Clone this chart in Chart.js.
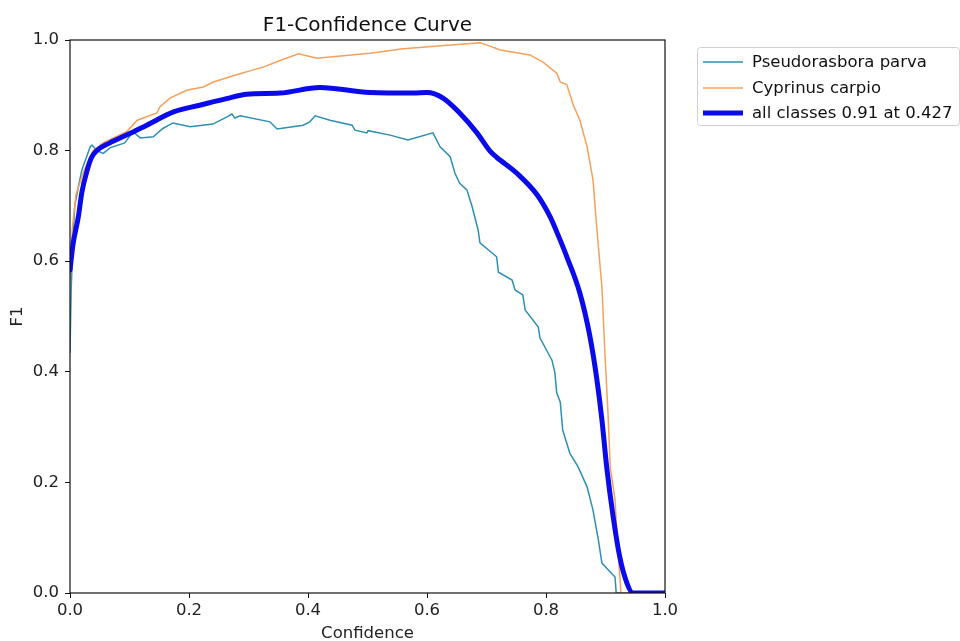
<!DOCTYPE html>
<html>
<head>
<meta charset="utf-8">
<script src="https://cdn.jsdelivr.net/npm/chart.js@4/dist/chart.umd.min.js"></script>
<style>
  html, body { margin: 0; padding: 0; background: #fff; }
  #wrap { width: 960px; height: 641px; }
</style>
</head>
<body>
<div id="wrap"><canvas id="f1Chart" width="960" height="641"></canvas></div>
<script>
// values
const seriesNames = ['Pseudorasbora parva', 'Cyprinus carpio', 'all classes 0.91 at 0.427'];
const tickValues = [0.0, 0.2, 0.4, 0.6, 0.8, 1.0];

const pConf = [0, 0.002, 0.005, 0.008, 0.015, 0.020, 0.024, 0.028, 0.034, 0.037, 0.045, 0.056, 0.067, 0.092, 0.106, 0.118, 0.140, 0.156, 0.173, 0.202, 0.240, 0.264, 0.272, 0.277, 0.286, 0.336, 0.348, 0.392, 0.403, 0.412, 0.437, 0.474, 0.479, 0.499, 0.501, 0.538, 0.568, 0.610, 0.622, 0.639, 0.647, 0.655, 0.667, 0.676, 0.686, 0.689, 0.717, 0.720, 0.743, 0.748, 0.761, 0.765, 0.787, 0.790, 0.810, 0.815, 0.818, 0.824, 0.828, 0.840, 0.854, 0.869, 0.879, 0.888, 0.894, 0.916, 0.918, 1.0];
const pF1   = [0.434, 0.55, 0.64, 0.70, 0.74, 0.765, 0.777, 0.789, 0.807, 0.810, 0.800, 0.795, 0.805, 0.814, 0.834, 0.823, 0.825, 0.840, 0.850, 0.843, 0.848, 0.861, 0.866, 0.859, 0.863, 0.852, 0.839, 0.846, 0.852, 0.863, 0.855, 0.846, 0.837, 0.832, 0.836, 0.828, 0.819, 0.832, 0.807, 0.789, 0.759, 0.741, 0.729, 0.698, 0.656, 0.633, 0.608, 0.580, 0.566, 0.548, 0.539, 0.512, 0.481, 0.461, 0.421, 0.398, 0.362, 0.345, 0.295, 0.253, 0.228, 0.192, 0.150, 0.096, 0.054, 0.029, 0, 0];

const cConf = [0, 0.004, 0.010, 0.022, 0.039, 0.056, 0.073, 0.095, 0.113, 0.146, 0.151, 0.168, 0.196, 0.224, 0.241, 0.280, 0.308, 0.325, 0.353, 0.384, 0.415, 0.504, 0.560, 0.689, 0.706, 0.723, 0.773, 0.795, 0.818, 0.824, 0.835, 0.846, 0.857, 0.869, 0.879, 0.885, 0.894, 0.899, 0.904, 0.908, 0.916, 0.921, 0.926, 1.0];
const cF1   = [0.56, 0.66, 0.72, 0.76, 0.800, 0.814, 0.823, 0.834, 0.855, 0.868, 0.879, 0.895, 0.909, 0.915, 0.924, 0.937, 0.946, 0.951, 0.963, 0.975, 0.967, 0.976, 0.984, 0.995, 0.989, 0.982, 0.973, 0.960, 0.940, 0.924, 0.919, 0.882, 0.855, 0.807, 0.747, 0.665, 0.553, 0.434, 0.330, 0.228, 0.168, 0.078, 0, 0];

const aConf = [0, 0.005, 0.014, 0.020, 0.029, 0.036, 0.045, 0.067, 0.095, 0.129, 0.174, 0.218, 0.263, 0.297, 0.353, 0.420, 0.504, 0.577, 0.600, 0.627, 0.655, 0.684, 0.706, 0.717, 0.751, 0.785, 0.807, 0.820, 0.835, 0.857, 0.874, 0.885, 0.894, 0.902, 0.913, 0.924, 0.936, 0.946, 1.0];
const aF1   = [0.584, 0.63, 0.68, 0.725, 0.765, 0.787, 0.800, 0.814, 0.828, 0.846, 0.870, 0.882, 0.894, 0.902, 0.904, 0.914, 0.905, 0.904, 0.905, 0.895, 0.868, 0.832, 0.799, 0.788, 0.759, 0.720, 0.680, 0.648, 0.608, 0.542, 0.463, 0.390, 0.313, 0.228, 0.137, 0.065, 0.018, 0, 0];

const toPoints = (xs, ys) => xs.map((x, k) => ({ x: x, y: ys[k] }));
const FONT = 'DejaVu Sans';

// matplotlib-like closed frame around the plot area
const framePlugin = {
  id: 'frame',
  afterDraw(chart) {
    const { ctx, chartArea: a } = chart;
    ctx.save();
    ctx.strokeStyle = '#111';
    ctx.lineWidth = 1.2;
    ctx.strokeRect(a.left, a.top, a.right - a.left, a.bottom - a.top);
    ctx.restore();
  }
};

// legend box outside the axes, top right
const legendPlugin = {
  id: 'boxLegend',
  afterDraw(chart) {
    const ctx = chart.ctx;
    const bx = 697, by = 47, bw = 262, bh = 78;
    ctx.save();
    ctx.fillStyle = 'rgba(255,255,255,0.8)';
    ctx.strokeStyle = '#d0d0d0';
    ctx.lineWidth = 1;
    ctx.beginPath();
    ctx.roundRect(bx + 0.5, by + 0.5, bw, bh, 3);
    ctx.fill();
    ctx.stroke();
    const rows = [62, 88, 113];
    ctx.font = '16.5px "' + FONT + '"';
    ctx.textBaseline = 'middle';
    chart.data.datasets.forEach((ds, k) => {
      ctx.strokeStyle = ds.borderColor;
      ctx.lineWidth = ds.borderWidth;
      ctx.beginPath();
      ctx.moveTo(703, rows[k]);
      ctx.lineTo(743, rows[k]);
      ctx.stroke();
      ctx.fillStyle = '#111';
      ctx.fillText(ds.label, 752, rows[k] + 1);
    });
    ctx.restore();
  }
};

const axisCommon = {
  type: 'linear',
  min: 0,
  max: 1,
  border: { display: false },
  grid: { display: true, drawOnChartArea: false, drawTicks: true, tickLength: 5, color: '#111' },
};

new Chart(document.getElementById('f1Chart').getContext('2d'), {
  type: 'line',
  data: {
    datasets: [
      { label: seriesNames[0], data: toPoints(pConf, pF1), borderColor: '#2e8fb5', borderWidth: 1.5, order: 3 },
      { label: seriesNames[1], data: toPoints(cConf, cF1), borderColor: '#f5a05c', borderWidth: 1.5, order: 2 },
      { label: seriesNames[2], data: toPoints(aConf, aF1), borderColor: '#0a0aeb', borderWidth: 5, order: 1,
        cubicInterpolationMode: 'monotone', borderCapStyle: 'round', borderJoinStyle: 'round' }
    ]
  },
  options: {
    responsive: false,
    animation: false,
    parsing: false,
    elements: { point: { radius: 0 }, line: { tension: 0, fill: false } },
    layout: { padding: { top: 0, right: 295, bottom: 0, left: 0 } },
    plugins: {
      legend: { display: false },
      tooltip: { enabled: false },
      title: {
        display: true,
        text: 'F1-Confidence Curve',
        fullSize: false,
        color: '#111',
        font: { family: FONT, size: 20, weight: 'normal', lineHeight: 1.2 },
        padding: { top: 14, bottom: 2 }
      }
    },
    scales: {
      x: Object.assign({}, axisCommon, {
        position: 'bottom',
        afterBuildTicks: (s) => { s.ticks = tickValues.map(v => ({ value: v })); },
        afterFit: (s) => { s.height = 48; },
        ticks: { color: '#222', padding: 3, maxRotation: 0, font: { family: FONT, size: 16.5 }, callback: v => v.toFixed(1) },
        title: { display: true, text: 'Confidence', color: '#222', font: { family: FONT, size: 16.5 }, padding: { top: 0, bottom: -3 } }
      }),
      y: Object.assign({}, axisCommon, {
        position: 'left',
        afterBuildTicks: (s) => { s.ticks = tickValues.map(v => ({ value: v })); },
        afterFit: (s) => { s.width = 70; },
        ticks: { color: '#222', padding: 6, font: { family: FONT, size: 16.5 }, callback: v => v.toFixed(1) },
        title: { display: true, text: 'F1', color: '#222', font: { family: FONT, size: 16.5 }, padding: { top: 8, bottom: 0 } }
      })
    }
  },
  plugins: [framePlugin, legendPlugin]
});
</script>
</body>
</html>
